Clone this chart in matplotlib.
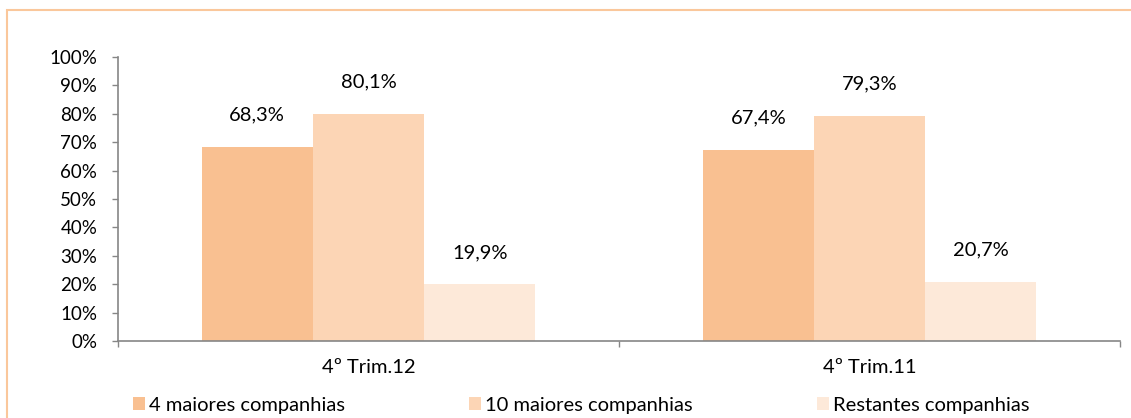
import matplotlib
matplotlib.use("Agg")
import matplotlib.pyplot as plt
import numpy as np
from matplotlib.patches import Rectangle

categories = ["4º Trim.12", "4º Trim.11"]
series_names = ["4 maiores companhias", "10 maiores companhias", "Restantes companhias"]
top4 = [68.3, 67.4]
top10 = [80.1, 79.3]
restantes = [19.9, 20.7]
colors = ["#F9C091", "#FCD5B5", "#FDE9D9"]

plt.rcParams["font.family"] = ["Lato", "DejaVu Sans"]
FS = 14.5
FS_TICK = 13.5

W, H = 1131, 418
fig = plt.figure(figsize=(W / 100, H / 100), dpi=100)
ax = fig.add_axes([118 / W, 1 - 341 / H, (1120 - 118) / W, (341 - 57) / H])

x = np.arange(len(categories))
bw = 0.222
for k, (vals, name, col) in enumerate(zip([top4, top10, restantes], series_names, colors)):
    xs = x + (k - 1) * bw
    ax.bar(xs, vals, width=bw, color=col, label=name, linewidth=0)
    for xi, v in zip(xs, vals):
        ax.annotate(f"{v:.1f}%".replace(".", ","), (xi, v), xytext=(0, 19),
                    textcoords="offset points", ha="center", va="baseline", fontsize=FS)

ax.set_xlim(-0.5, 1.5)
ax.set_ylim(0, 100)
ax.set_yticks(np.arange(0, 101, 10))
ax.set_yticklabels([f"{t}%" for t in range(0, 101, 10)])
ax.set_xticks(x)
ax.set_xticklabels(categories)
ax.set_xticks([-0.5, 0.5, 1.5], minor=True)
ax.tick_params(axis="x", which="major", length=0, pad=13, labelsize=FS)
ax.tick_params(axis="x", which="minor", length=4.5, width=1, color="#868686")
ax.tick_params(axis="y", length=4.5, width=1, color="#868686", pad=10.5, labelsize=FS_TICK)
for s in ["top", "right"]:
    ax.spines[s].set_visible(False)
for s in ["left", "bottom"]:
    ax.spines[s].set_color("#868686")
    ax.spines[s].set_linewidth(1.2)

em = FS * 100 / 72
fig.legend(loc="center left", bbox_to_anchor=(133 / W, 1 - 405 / H), ncol=3,
           frameon=False, fontsize=FS, handlelength=12 / em, handleheight=12 / em,
           handletextpad=4 / em, columnspacing=124 / em, borderpad=0, borderaxespad=0)

fig.patches.append(Rectangle((7 / W, -0.05), 1.2, 1 - 10 / H + 0.05, transform=fig.transFigure,
                             fill=False, edgecolor="#FAC79B", linewidth=1.5))

fig.savefig("out.png", dpi=100)
